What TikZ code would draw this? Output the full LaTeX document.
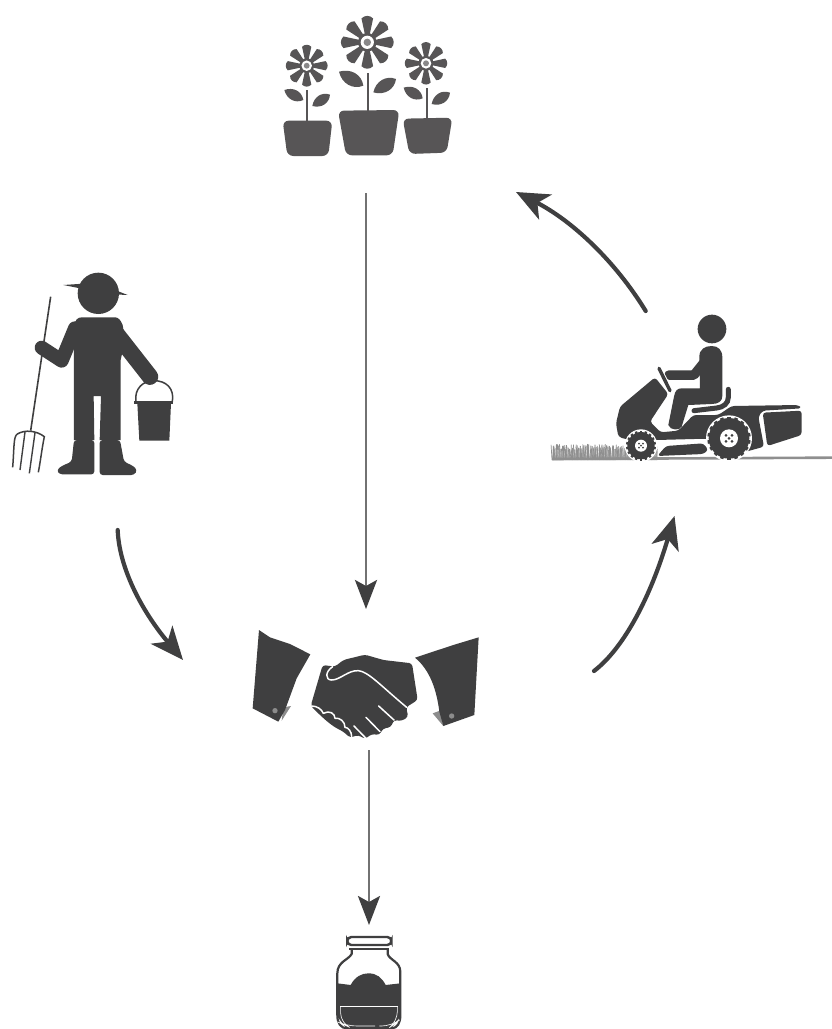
\documentclass[tikz,border=0pt]{standalone}
\usetikzlibrary{arrows.meta}
\definecolor{ink}{HTML}{3F3F40}
\definecolor{pot}{HTML}{575556}
\definecolor{shaft}{HTML}{727272}
\definecolor{greyflap}{HTML}{8C8C8C}
\definecolor{grassc}{HTML}{8F8F8F}
\tikzset{
  zoomed/.style={x=0.33333pt,y=-0.33333pt},
  curvearrow/.style={ink,line width=4.2pt,line cap=round,-{Stealth[length=33pt,width=28pt,inset=9pt]}},
  straightarrow/.style={shaft,line width=2.9pt,-{Stealth[length=29pt,width=22pt,inset=6pt,color=ink]}},
  gap/.style={white,line width=1.5pt,line cap=round,line join=round},
}
\newcommand{\flowerhead}[3]{%
  \begin{scope}[shift={(#1,#2)},x=#3pt,y=#3pt]
    \foreach \a in {0,45,...,315}{
      \fill[pot,rotate=\a] (-0.07,0.2) -- (-0.22,0.9) .. controls (-0.1,1.03) and (0.1,1.03) .. (0.22,0.9) -- (0.07,0.2) -- cycle;
    }
    \fill[pot] (0,0) circle (0.35);
    \fill[white] (0,0) circle (0.25);
    \fill[pot!70] (0,0) circle (0.14);
  \end{scope}}
\newcommand{\leaf}[5]{%
  \pgfmathsetmacro{\nx}{-(#4-#2)*#5}%
  \pgfmathsetmacro{\ny}{(#3-#1)*#5}%
  \pgfmathsetmacro{\ax}{#1+0.3*(#3-#1)}%
  \pgfmathsetmacro{\ay}{#2+0.3*(#4-#2)}%
  \pgfmathsetmacro{\bx}{#1+0.75*(#3-#1)}%
  \pgfmathsetmacro{\by}{#2+0.75*(#4-#2)}%
  \fill[pot] (#1,#2) .. controls (\ax+\nx,\ay+\ny) and (\bx+\nx,\by+\ny) .. (#3,#4) .. controls (\bx-\nx,\by-\ny) and (\ax-\nx,\ay-\ny) .. cycle;}
\newcommand{\tyre}[3]{%
  \fill[white] (#1,#2) circle (#3+4);
  \fill[ink] (#1,#2) circle (#3-4);
  \foreach \a in {0,20,...,340}{\fill[ink,rotate around={\a:(#1,#2)}] (#1-0.08*#3,#2-#3) rectangle (#1+0.08*#3,#2);}
}
\begin{document}
\begin{tikzpicture}[x=1pt,y=-1pt]
\useasboundingbox (0,0) rectangle (832,1029);
\fill[white] (0,0) rectangle (832,1029);

% ---- flowers
\begin{scope}[xshift=270pt,yshift=0pt,zoomed]
  \fill[pot,rounded corners=6pt] (38,362) -- (187,362) -- (175,468) -- (52,468) -- cycle;
  \fill[pot,rounded corners=6pt] (204,332) -- (388,330) -- (368,466) -- (228,466) -- cycle;
  \fill[pot,rounded corners=6pt] (398,356) -- (547,353) -- (530,458) -- (418,462) -- cycle;
  \draw[pot,line width=2pt] (112,270) -- (112,362) (294,220) -- (294,332) (471,265) -- (471,355);
  \leaf{43}{270}{100}{300}{0.33}
  \leaf{127}{318}{180}{284}{0.33}
  \leaf{207}{215}{280}{257}{0.32}
  \leaf{310}{277}{378}{237}{0.32}
  \leaf{401}{263}{458}{295}{0.33}
  \leaf{485}{312}{540}{278}{0.33}
\end{scope}
\flowerhead{306.7}{65.7}{21}
\flowerhead{367.3}{42.3}{26.5}
\flowerhead{426}{63.3}{21.3}

% ---- farmer
\begin{scope}[xshift=0pt,yshift=-260pt,zoomed]
  \fill[ink] (295,100) circle (62);
  \fill[ink] (190,75) -- (250,71) -- (250,87) -- cycle;
  \fill[ink] (383,105) -- (340,88) -- (340,103) -- cycle;
  % torso and legs
  \fill[ink] (222,200) .. controls (225,180) and (232,172) .. (245,172) -- (345,172) .. controls (355,172) and (362,180) .. (368,195) -- (375,240) -- (362,300) -- (362,540) -- (299,540) -- (303,408) -- (281,408) -- (283,540) -- (222,540) -- cycle;
  % arms
  \draw[ink,line width=16.5pt,line cap=round,line join=round] (342,212) -- (450,350);
  \draw[ink,line width=14pt,line cap=round,line join=round] (225,205) -- (185,302) -- (125,263);
  % boots
  \fill[ink,rounded corners=3pt] (222,540) -- (283,540) -- (283,643) -- (178,643) -- (170,630) -- (185,618) -- (215,605) -- cycle;
  \fill[ink,rounded corners=3pt] (299,540) -- (360,540) -- (372,605) -- (400,618) -- (412,630) -- (403,645) -- (299,645) -- cycle;
  % bucket
  \draw[ink,line width=1.5pt] (408,425) .. controls (402,385) and (430,362) .. (462,362) .. controls (498,362) and (524,385) .. (517,425);
  \fill[ink] (403,423) rectangle (520,431);
  \fill[ink] (412,430) -- (513,430) -- (508,542) -- (418,542) -- cycle;
  % fork
  \draw[ink,line width=1.6pt] (152,110) -- (92,512);
  \draw[ink,line width=1.5pt] (38,622) .. controls (43,560) and (40,530) .. (52,522) .. controls (75,508) and (110,512) .. (133,530) .. controls (125,570) and (122,600) .. (115,637);
  \draw[ink,line width=1.4pt] (75,516) -- (60,630) (105,518) -- (88,640);
\end{scope}

% ---- mower
\begin{scope}[xshift=540pt,yshift=-300pt,zoomed]
  % grass
  \pgfmathsetseed{7}
  \foreach \i in {0,...,210}{
    \pgfmathsetmacro{\gx}{36+\i*1.5}
    \pgfmathsetmacro{\gh}{30+rnd*18}
    \draw[grassc,line width=0.7pt] (\gx,480) -- (\gx+rnd*8-4,480-\gh);
  }
  \draw[grassc,line width=2.6pt] (36,477) -- (876,473);
  % chassis
  \fill[ink,rounded corners=3pt] (345,232) -- (385,282) -- (330,365) -- (362,397) -- (415,392) -- (460,345) -- (535,345) -- (575,318) -- (775,315) -- (785,325) -- (668,332) -- (655,350) -- (672,440) -- (600,460) -- (500,416) -- (350,420) -- (258,418) -- (235,410) -- (228,370) -- (240,320) -- cycle;
  % catcher
  \fill[ink,rounded corners=3pt] (668,338) -- (785,332) -- (785,405) -- (682,438) -- cycle;
  % blade deck
  \fill[ink,rounded corners=3pt] (378,438) -- (490,430) -- (505,450) -- (490,462) -- (352,468) -- cycle;
  % wheels
  \tyre{567}{415}{65}
  \tyre{303}{437}{45}
  \fill[white] (567,415) circle (27);
  \fill[white] (303,437) circle (18);
  \foreach \dx/\dy in {-9/-9,9/-9,-9/9,9/9,0/0}{\fill[ink] (567+\dx,415+\dy) circle (4.5);}
  \foreach \dx/\dy in {-6/-6,6/-6,-6/6,6/6,0/0}{\fill[ink] (303+\dx,437+\dy) circle (3);}
  % driver
  \fill[ink] (516,87) circle (43);
  \draw[white,line width=2pt,line join=round] (565,265) -- (565,292) .. controls (565,310) and (550,320) .. (530,322) -- (462,332);
  \fill[ink] (478,170) .. controls (478,148) and (495,138) .. (515,138) .. controls (535,138) and (547,150) .. (547,172) -- (547,288) .. controls (547,304) and (535,312) .. (515,312) -- (445,315) -- (425,380) .. controls (420,392) and (390,392) .. (385,375) -- (402,290) .. controls (405,272) and (412,265) .. (425,265) -- (480,265) -- cycle;
  \draw[ink,line width=9.5pt,line cap=round,line join=round] (387,225) -- (462,225) -- (490,190);
  \draw[white,line width=5pt] (362,215) -- (392,272);
  \draw[ink,line width=3.4pt,line cap=round] (357,205) -- (390,272);
  \draw[ink,line width=5pt,line cap=round] (565,268) -- (565,292) .. controls (565,310) and (550,322) .. (530,324) -- (462,332);
\end{scope}

% ---- handshake
\begin{scope}[xshift=240pt,yshift=-620pt,zoomed]
  \fill[greyflap] (130,262) -- (153,258) -- (125,302) -- cycle;
  \fill[ink] (57,30) -- (90,52) -- (150,72) -- (211,103) -- (170,175) -- (135,270) -- (115,305) -- (38,265) -- cycle;
  \fill[greyflap] (105,272) circle (8);
  \fill[greyflap] (578,280) -- (600,272) -- (610,318) -- cycle;
  \fill[ink] (525,113) -- (640,75) -- (716,52) -- (703,285) -- (610,318) -- (598,275) .. controls (590,210) and (570,150) .. cycle;
  \fill[greyflap] (635,288) circle (8);
  % hands
  \fill[ink,rounded corners=3pt] (248,135) -- (285,140) -- (310,120) -- (375,104) -- (430,120) -- (516,130) -- (533,240) -- (498,262) -- (505,290) -- (485,303) -- (462,300) -- (452,322) -- (430,325) -- (418,345) -- (395,342) -- (375,357) -- (355,345) -- (330,353) -- (310,335) -- (285,322) -- (262,305) -- (240,285) -- (212,258) -- cycle;
  \draw[gap] (278,140) .. controls (255,155) and (255,180) .. (275,180) .. controls (300,180) and (325,150) .. (355,152) .. controls (385,155) and (420,195) .. (500,262);
  \draw[gap] (416,258) -- (462,300);
  \draw[gap] (378,292) -- (420,335);
  \draw[gap] (342,318) -- (378,355);
  \draw[gap] (215,258) .. controls (232,258) and (245,268) .. (250,280) .. controls (268,270) and (285,280) .. (285,295) .. controls (300,292) and (315,305) .. (315,322) .. controls (325,322) and (335,335) .. (335,350);
\end{scope}

% ---- jar
\begin{scope}[xshift=320pt,yshift=-890pt,zoomed]
  \fill[ink] (52,280) -- (92,285) .. controls (105,260) and (125,250) .. (145,250) .. controls (170,250) and (185,262) .. (197,285) -- (241,280) -- (241,380) -- (215,413) -- (78,413) -- (52,380) -- cycle;
  \draw[ink,line width=2.2pt,line join=round] (95,178) -- (95,192) .. controls (85,210) and (52,215) .. (52,250) -- (52,375) .. controls (52,400) and (62,414) .. (80,415) -- (215,415) .. controls (232,414) and (241,400) .. (241,375) -- (241,245) .. controls (241,215) and (208,210) .. (203,192) -- (203,178);
  \draw[ink,line width=2.4pt,rounded corners=4pt] (82,141) rectangle (214,165);
  \draw[ink,line width=2.2pt] (88,177) -- (208,177);
  \draw[white,line width=0.6pt] (60,348) -- (234,348);
  \draw[white,line width=0.6pt,rounded corners=10pt] (62,350) -- (62,400) -- (80,408) -- (165,408);
  \draw[white,line width=0.6pt,rounded corners=10pt] (232,350) -- (232,395) -- (215,408) -- (178,408);
\end{scope}

% ---- arrows
\coordinate (flowerfoot) at (366,193);
\coordinate (shaketop) at (366,609);
\coordinate (shakefoot) at (369,750);
\coordinate (jartop) at (369,925);
\coordinate (farmerfoot) at (117.7,530);
\coordinate (shakeleft) at (183,660);
\coordinate (shakeright) at (594,671);
\coordinate (mowerfoot) at (674.5,516);
\coordinate (mowertop) at (645.7,311);
\coordinate (flowerright) at (516,192);

\draw[straightarrow] (flowerfoot) -- (shaketop);
\draw[straightarrow] (shakefoot) -- (jartop);
\draw[curvearrow] (farmerfoot) .. controls (119,566.7) and (140.8,610) .. (shakeleft);
\draw[curvearrow] (shakeright) .. controls (624.1,648) and (650.9,596.3) .. (mowerfoot);
\draw[curvearrow] (mowertop) .. controls (614.4,259.9) and (571.2,220.2) .. (flowerright);
\end{tikzpicture}
\end{document}
